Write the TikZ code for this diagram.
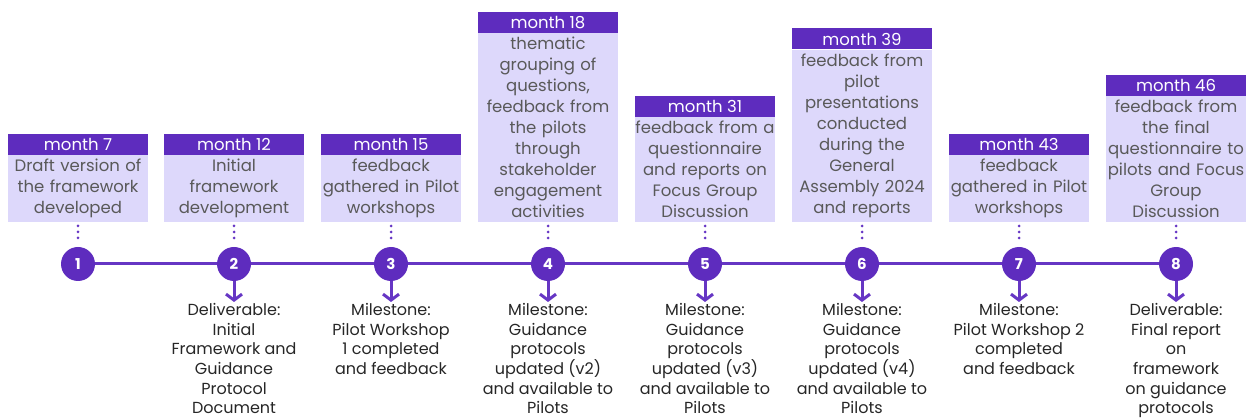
\documentclass[tikz,border=0pt]{standalone}
\usepackage{fontspec}
\setmainfont{Poppins}
\usepackage{tikz}
\usetikzlibrary{arrows.meta}
\usetikzlibrary{positioning, backgrounds}
\definecolor{headpurple}{HTML}{5E2CBE}
\definecolor{bodylilac}{HTML}{DDD8FB}
\definecolor{linepurple}{HTML}{6636C4}
\definecolor{boxtext}{HTML}{595959}
\definecolor{outtext}{HTML}{262626}
\tikzset{
month body/.style = { rectangle, fill = bodylilac, text = boxtext, text width = 140pt, inner xsep = 0pt, inner ysep = 4pt, align = center, font = \fontsize{16.5}{21}\selectfont },
month head/.style = { rectangle, fill = headpurple, text = white, minimum width = 140pt, minimum height = 21pt, inner sep = 0pt, font = \fontsize{16.5}{21}\selectfont },
stage dot/.style = { circle, fill = headpurple, text = white, minimum size = 34pt, inner sep = 0pt, font = \fontsize{15}{18}\selectfont\bfseries },
outcome/.style = { anchor = north, align = center, text = outtext, inner sep = 1pt, font = \fontsize{16}{19.7}\selectfont },
dot link/.style = { draw = linepurple, line width = 3pt, line cap = round, dash pattern = on 0pt off 6pt, shorten < = 4pt, shorten > = 3pt },
out arrow/.style = { draw = linepurple, line width = 3pt, -{Straight Barb[length = 6pt, width = 16pt, line width = 3pt]} },
time line/.style = { draw = linepurple, line width = 3pt },
}

\begin{document}
\begin{tikzpicture}[x = 1pt, y = -1pt]
      \useasboundingbox (0, 0) rectangle (1248, 419);
      % timeline stages
      \node[stage dot] (c1) at (78, 264) {1};
      \node[stage dot] (c2) at (234, 264) {2};
      \node[stage dot] (c3) at (391, 264) {3};
      \node[stage dot] (c4) at (548, 264) {4};
      \node[stage dot] (c5) at (705, 264) {5};
      \node[stage dot] (c6) at (862, 264) {6};
      \node[stage dot] (c7) at (1019, 264) {7};
      \node[stage dot] (c8) at (1176, 264) {8};
      \begin{scope}[on background layer]
      \draw[time line] (c1) -- (c8);
      \end{scope}
      % month boxes
      \node[month body, anchor = south] (b1) at (78, 222) {Draft version of\\the framework\\developed};
      \node[month body, anchor = south] (b2) at (234, 222) {Initial\\framework\\development};
      \node[month body, anchor = south] (b3) at (391, 222) {feedback\\gathered in Pilot\\workshops};
      \node[month body, anchor = south] (b4) at (548, 222) {thematic\\grouping of\\questions,\\feedback from\\the pilots\\through\\stakeholder\\engagement\\activities};
      \node[month body, anchor = south] (b5) at (705, 222) {feedback from a\\questionnaire\\and reports on\\Focus Group\\Discussion};
      \node[month body, anchor = south] (b6) at (862, 222) {feedback from\\pilot\\presentations\\conducted\\during the\\General\\Assembly 2024\\and reports};
      \node[month body, anchor = south] (b7) at (1019, 222) {feedback\\gathered in Pilot\\workshops};
      \node[month body, anchor = south] (b8) at (1176, 222) {feedback from\\the final\\questionnaire to\\pilots and Focus\\Group\\Discussion};
      \node[month head, above = 0pt of b1] (h1) {month 7};
      \node[month head, above = 0pt of b2] (h2) {month 12};
      \node[month head, above = 0pt of b3] (h3) {month 15};
      \node[month head, above = 0pt of b4] (h4) {month 18};
      \node[month head, above = 0pt of b5] (h5) {month 31};
      \node[month head, above = 0pt of b6] (h6) {month 39};
      \node[month head, above = 0pt of b7] (h7) {month 43};
      \node[month head, above = 0pt of b8] (h8) {month 46};
      \draw[dot link] (b1) -- (c1);
      \draw[dot link] (b2) -- (c2);
      \draw[dot link] (b3) -- (c3);
      \draw[dot link] (b4) -- (c4);
      \draw[dot link] (b5) -- (c5);
      \draw[dot link] (b6) -- (c6);
      \draw[dot link] (b7) -- (c7);
      \draw[dot link] (b8) -- (c8);
      % outcomes
      \node[outcome] (o2) at (234, 302) {Deliverable:\\Initial\\Framework and\\Guidance\\Protocol\\Document};
      \node[outcome] (o3) at (391, 302) {Milestone:\\Pilot Workshop\\1 completed\\and feedback};
      \node[outcome] (o4) at (548, 302) {Milestone:\\Guidance\\protocols\\updated (v2)\\and available to\\Pilots};
      \node[outcome] (o5) at (705, 302) {Milestone:\\Guidance\\protocols\\updated (v3)\\and available to\\Pilots};
      \node[outcome] (o6) at (862, 302) {Milestone:\\Guidance\\protocols\\updated (v4)\\and available to\\Pilots};
      \node[outcome] (o7) at (1019, 302) {Milestone:\\Pilot Workshop 2\\completed\\and feedback};
      \node[outcome] (o8) at (1176, 302) {Deliverable:\\Final report\\on\\framework\\on guidance\\protocols};
      \draw[out arrow] (c2) -- (o2);
      \draw[out arrow] (c3) -- (o3);
      \draw[out arrow] (c4) -- (o4);
      \draw[out arrow] (c5) -- (o5);
      \draw[out arrow] (c6) -- (o6);
      \draw[out arrow] (c7) -- (o7);
      \draw[out arrow] (c8) -- (o8);
    \end{tikzpicture}
\end{document}
